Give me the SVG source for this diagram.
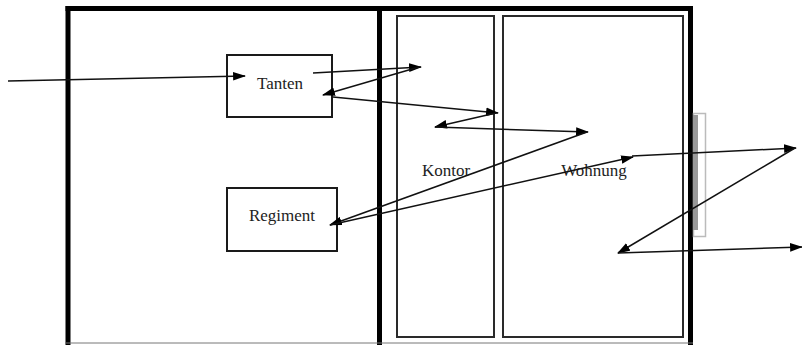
<svg xmlns="http://www.w3.org/2000/svg" width="802" height="345" viewBox="0 0 802 345">
<style>
.wall{fill:none;stroke:#000;stroke-width:5}
.room{fill:none;stroke:#2a2a2a;stroke-width:2}
.box{fill:#fff;stroke:#1a1a1a;stroke-width:2}
.lbl{font-family:"Liberation Serif","Times New Roman",serif;font-size:17px;fill:#222;text-anchor:middle}
.c{fill:none;stroke:#111;stroke-width:1.5;marker-end:url(#ah)}
</style>
<defs>
<marker id="ah" viewBox="0 0 12 8" refX="11" refY="4" markerWidth="13" markerHeight="9" markerUnits="userSpaceOnUse" orient="auto">
<path d="M0,0 L12,4 L0,8 z" fill="#000"/>
</marker>
</defs>
<rect width="802" height="345" fill="#fff"/>
<g id="building">
<line x1="65.5" y1="8.5" x2="693" y2="8.5" class="wall"/>
<line x1="68" y1="6" x2="68" y2="345" class="wall"/>
<line x1="690.5" y1="6" x2="690.5" y2="345" class="wall"/>
<line x1="379.5" y1="6" x2="379.5" y2="345" class="wall"/>
<line x1="65" y1="343" x2="693" y2="343" stroke="#777" stroke-width="1"/>
</g>
<g id="window">
<rect x="693.5" y="113.5" width="12" height="123" fill="none" stroke="#bbb" stroke-width="1.5"/>
<rect x="693" y="115" width="5" height="115" fill="#999"/>
</g>
<g id="kontor">
<rect x="397" y="16" width="97" height="321" class="room"/>
<text x="446" y="176" class="lbl">Kontor</text>
</g>
<g id="wohnung">
<rect x="503" y="16" width="180" height="321" class="room"/>
<text x="594" y="176" class="lbl">Wohnung</text>
</g>
<g id="tanten">
<rect x="227" y="55" width="105" height="62" class="box"/>
<text x="280" y="89" class="lbl">Tanten</text>
</g>
<g id="regiment">
<rect x="227" y="188" width="110" height="63" class="box"/>
<text x="282" y="221" class="lbl">Regiment</text>
</g>
<g id="connectors">
<line x1="8" y1="81" x2="245" y2="76" class="c"/>
<line x1="313" y1="73" x2="421" y2="67" class="c"/>
<line x1="419" y1="67" x2="323" y2="95" class="c"/>
<line x1="333" y1="97" x2="498" y2="113" class="c"/>
<line x1="496" y1="113" x2="435" y2="127" class="c"/>
<line x1="435" y1="127" x2="588" y2="132" class="c"/>
<line x1="587" y1="132" x2="330" y2="225" class="c"/>
<line x1="330" y1="225" x2="633" y2="157" class="c"/>
<line x1="632" y1="156" x2="796" y2="148" class="c"/>
<line x1="795" y1="148" x2="618" y2="253" class="c"/>
<line x1="618" y1="253" x2="802" y2="247" class="c"/>
</g>
</svg>
